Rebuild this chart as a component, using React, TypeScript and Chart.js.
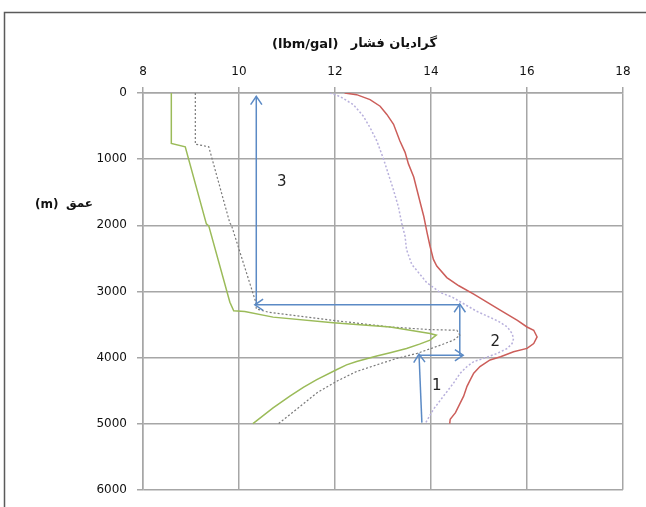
import React, { useEffect, useRef } from "react";
import { Chart, registerables } from "chart.js";

Chart.register(...registerables);

// Axis ticks
const xTickValues = [8, 10, 12, 14, 16, 18];
const depthTickValues = [0, 1000, 2000, 3000, 4000, 5000, 6000];

// Green solid curve
const greenX = [8.59, 8.59, 8.88, 9.32, 9.37, 9.81, 9.89, 10.12, 10.71, 11.96, 13.15, 13.98, 14.11, 13.98, 13.76, 13.49, 13.15, 12.87, 12.45, 12.24, 12.03, 11.62, 11.34, 11.06, 10.71, 10.29];
const greenDepth = [0, 762, 813, 1979, 2009, 3164, 3294, 3303, 3389, 3475, 3538, 3638, 3662, 3737, 3797, 3862, 3927, 3976, 4061, 4111, 4185, 4335, 4450, 4584, 4760, 5000];

// Gray dotted curve
const grayX = [9.09, 9.09, 9.37, 9.81, 9.84, 10.35, 10.36, 10.61, 11.96, 13.15, 13.98, 14.54, 14.6, 14.47, 14.2, 13.71, 13.29, 12.87, 12.45, 12.03, 11.62, 11.2, 10.82];
const grayDepth = [0, 773, 813, 1969, 1994, 3164, 3265, 3314, 3438, 3538, 3578, 3587, 3662, 3737, 3812, 3937, 4012, 4111, 4211, 4360, 4535, 4783, 5000];

// Lavender dotted curve
const lavX = [11.89, 12.1, 12.38, 12.59, 12.73, 12.87, 13.01, 13.11, 13.22, 13.32, 13.39, 13.46, 13.49, 13.6, 13.77, 13.91, 14.19, 14.45, 14.95, 15.4, 15.59, 15.69, 15.72, 15.69, 15.59, 15.38, 15.1, 14.89, 14.75, 14.61, 14.47, 14.26, 14.05, 13.88];
const lavDepth = [0, 51, 175, 350, 523, 723, 997, 1221, 1471, 1719, 1969, 2168, 2368, 2592, 2741, 2866, 3016, 3090, 3300, 3450, 3538, 3638, 3713, 3788, 3862, 3937, 4012, 4061, 4136, 4236, 4386, 4584, 4783, 5000];

// Red solid curve
const redX = [12.2, 12.45, 12.73, 12.94, 13.08, 13.22, 13.35, 13.46, 13.53, 13.64, 13.71, 13.78, 13.85, 13.92, 13.98, 14.05, 14.12, 14.33, 14.58, 14.89, 15.45, 15.8, 16.0, 16.14, 16.21, 16.14, 16.0, 15.72, 15.45, 15.23, 15.02, 14.89, 14.82, 14.75, 14.68, 14.61, 14.51, 14.4, 14.39];
const redDepth = [0, 25, 100, 200, 324, 474, 723, 897, 1072, 1271, 1471, 1670, 1868, 2118, 2317, 2517, 2616, 2791, 2915, 3040, 3288, 3438, 3538, 3587, 3688, 3788, 3862, 3912, 3987, 4036, 4136, 4236, 4335, 4435, 4584, 4685, 4834, 4933, 5000];

// Arrows (tail -> head)
const arrowFromX = [13.81, 13.75, 14.6, 14.6, 10.36];
const arrowFromDepth = [4984, 3964, 3964, 3202, 3202];
const arrowToX = [13.75, 14.67, 14.6, 10.33, 10.36];
const arrowToDepth = [3949, 3964, 3190, 3202, 51];

// Number labels
const noteText = ["3", "2", "1"];
const noteX = [10.89, 15.34, 14.12];
const noteDepth = [1345, 3762, 4435];

const titleLatin = "(lbm/gal)";
const titlePersian = "گرادیان فشار";
const yLatin = "(m)";
const yPersian = "عمق";

const zip = (xs: number[], ys: number[]) => xs.map((x, i) => ({ x, y: ys[i] }));

const decorPlugin = {
  id: "decor",
  beforeDraw(chart: any) {
    const ctx = chart.ctx;
    ctx.save();
    ctx.fillStyle = "#ffffff";
    ctx.fillRect(0, 0, chart.width, chart.height);
    ctx.strokeStyle = "#5a5a5a";
    ctx.lineWidth = 1.5;
    ctx.strokeRect(4.5, 12.5, 800, 800);
    ctx.restore();
  },
  afterDatasetsDraw(chart: any) {
    const ctx = chart.ctx;
    const xs = chart.scales.x;
    const ys = chart.scales.y;
    ctx.save();
    ctx.strokeStyle = "#5b8ac5";
    ctx.lineWidth = 1.5;
    for (let i = 0; i < arrowToX.length; i++) {
      const hx = xs.getPixelForValue(arrowToX[i]);
      const hy = ys.getPixelForValue(arrowToDepth[i]);
      const tx = xs.getPixelForValue(arrowFromX[i]);
      const ty = ys.getPixelForValue(arrowFromDepth[i]);
      const ang = Math.atan2(hy - ty, hx - tx);
      const len = 10;
      const spread = 0.6;
      ctx.beginPath();
      ctx.moveTo(hx - len * Math.cos(ang - spread), hy - len * Math.sin(ang - spread));
      ctx.lineTo(hx, hy);
      ctx.lineTo(hx - len * Math.cos(ang + spread), hy - len * Math.sin(ang + spread));
      ctx.stroke();
    }
    ctx.fillStyle = "#222222";
    ctx.font = "15px 'DejaVu Sans'";
    ctx.textAlign = "center";
    ctx.textBaseline = "middle";
    for (let i = 0; i < noteText.length; i++) {
      ctx.fillText(noteText[i], xs.getPixelForValue(noteX[i]), ys.getPixelForValue(noteDepth[i]));
    }
    ctx.restore();
  },
  afterDraw(chart: any) {
    const ctx = chart.ctx;
    ctx.save();
    ctx.fillStyle = "#111111";
    ctx.textBaseline = "middle";
    ctx.font = "bold 13px 'DejaVu Sans'";
    ctx.textAlign = "left";
    ctx.fillText(titleLatin, 272, 45);
    ctx.textAlign = "right";
    ctx.fillText(titlePersian, 437, 44);
    ctx.font = "bold 12px 'DejaVu Sans'";
    ctx.textAlign = "left";
    ctx.fillText(yLatin, 35, 205);
    ctx.textAlign = "right";
    ctx.fillText(yPersian, 93, 204);
    ctx.restore();
  },
};

export default function App() {
  const ref = useRef<HTMLCanvasElement | null>(null);
  useEffect(() => {
    if (!ref.current) return;
    const arrowSets = arrowFromX.map((_, i) => ({
      data: [
        { x: arrowFromX[i], y: arrowFromDepth[i] },
        { x: arrowToX[i], y: arrowToDepth[i] },
      ],
      borderColor: "#5b8ac5",
      borderWidth: 1.5,
      showLine: true,
      pointRadius: 0,
    }));
    const chart = new Chart(ref.current, {
      type: "scatter",
      data: {
        datasets: [
          { data: zip(greenX, greenDepth), borderColor: "#9bbb59", borderWidth: 1.5, showLine: true, pointRadius: 0 },
          { data: zip(grayX, grayDepth), borderColor: "#7a7a7a", borderWidth: 1.2, borderDash: [2, 2], showLine: true, pointRadius: 0 },
          { data: zip(lavX, lavDepth), borderColor: "#b8b0dc", borderWidth: 1.5, borderDash: [2, 2], showLine: true, pointRadius: 0 },
          { data: zip(redX, redDepth), borderColor: "#cc5e5a", borderWidth: 1.5, showLine: true, pointRadius: 0 },
          ...arrowSets,
        ] as any,
      },
      options: {
        responsive: false,
        animation: false,
        layout: { padding: { left: 81, right: 23, top: 60, bottom: 12 } },
        plugins: { legend: { display: false }, tooltip: { enabled: false } },
        scales: {
          x: {
            type: "linear",
            position: "top",
            min: 8,
            max: 18,
            afterFit: (s: any) => { s.height = 33; },
            afterBuildTicks: (s: any) => { s.ticks = xTickValues.map((v) => ({ value: v })); },
            ticks: { padding: 8, color: "#111", font: { family: "'DejaVu Sans'", size: 12 }, callback: (v: any) => String(v) },
            grid: { color: "#a6a6a6", lineWidth: 1.5, tickLength: 6 },
            border: { color: "#a6a6a6", width: 1.5 },
          },
          y: {
            type: "linear",
            reverse: true,
            min: 0,
            max: 6000,
            afterFit: (s: any) => { s.width = 62; },
            afterBuildTicks: (s: any) => { s.ticks = depthTickValues.map((v) => ({ value: v })); },
            ticks: { padding: 10, color: "#111", font: { family: "'DejaVu Sans'", size: 12 }, callback: (v: any) => String(v) },
            grid: { color: "#a6a6a6", lineWidth: 1.5, tickLength: 6 },
            border: { color: "#a6a6a6", width: 1.5 },
          },
        },
      },
      plugins: [decorPlugin],
    } as any);
    return () => chart.destroy();
  }, []);
  return (
    <div style={{ position: "absolute", left: 0, top: 0, width: 646, height: 507, background: "#fff" }}>
      <canvas ref={ref} width={646} height={507} style={{ display: "block", width: 646, height: 507 }} />
    </div>
  );
}
